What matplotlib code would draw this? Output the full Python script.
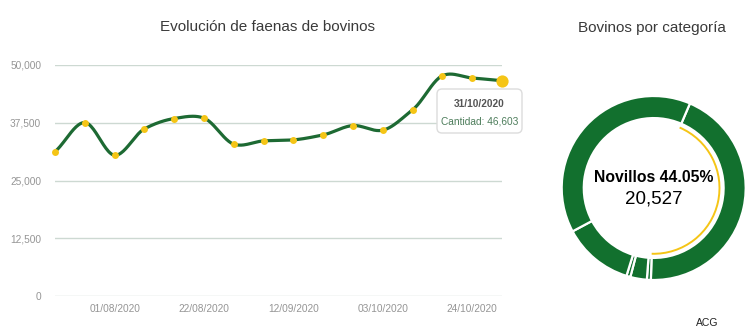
import numpy as np
import matplotlib
matplotlib.use("Agg")
import matplotlib.pyplot as plt
import matplotlib.dates as mdates
from matplotlib.patches import Arc, FancyBboxPatch
import datetime

plt.rcParams['font.family'] = ['Liberation Sans', 'DejaVu Sans']

# weekly slaughter (faenas) of cattle
dates = ["18/07/2020", "25/07/2020", "01/08/2020", "08/08/2020", "15/08/2020",
         "22/08/2020", "29/08/2020", "05/09/2020", "12/09/2020", "19/09/2020",
         "26/09/2020", "03/10/2020", "10/10/2020", "17/10/2020", "24/10/2020",
         "31/10/2020"]
cantidad = [31250, 37540, 30470, 36180, 38410, 38500, 32860, 33570, 33790,
            34870, 36890, 35890, 40300, 47680, 47180, 46603]
tick_dates = ["01/08/2020", "22/08/2020", "12/09/2020", "03/10/2020", "24/10/2020"]
y_ticks = [0, 12500, 25000, 37500, 50000]

# last week by category
categorias = ["Novillos", "Terneros", "Toros", "Otros", "Vaquillonas", "Vacas"]
cabezas = [20527, 326, 1351, 326, 5779, 18294]

GREEN_LINE = "#1d6a33"
GREEN_PIE = "#12702e"
YELLOW = "#f5c516"
GRID = "#cdd9d2"
TICK = "#959595"


def smooth(x, y, n=24, k=0.85):
    # hermite curve through the points, only for drawing the line
    x = np.asarray(x, float)
    y = np.asarray(y, float)
    xs, ys = [], []
    for i in range(len(x) - 1):
        p0 = max(i - 1, 0)
        p3 = min(i + 2, len(x) - 1)
        m1 = k * (y[i + 1] - y[p0]) / (x[i + 1] - x[p0]) * (x[i + 1] - x[i])
        m2 = k * (y[p3] - y[i]) / (x[p3] - x[i]) * (x[i + 1] - x[i])
        t = np.linspace(0, 1, n, endpoint=False)
        h00 = 2 * t**3 - 3 * t**2 + 1
        h10 = t**3 - 2 * t**2 + t
        h01 = -2 * t**3 + 3 * t**2
        h11 = t**3 - t**2
        xs.append(x[i] + t * (x[i + 1] - x[i]))
        ys.append(h00 * y[i] + h10 * m1 + h01 * y[i + 1] + h11 * m2)
    xs.append([x[-1]])
    ys.append([y[-1]])
    return np.concatenate(xs), np.concatenate(ys)


W, H = 750, 332
fig = plt.figure(figsize=(W / 100, H / 100), dpi=100)

# ---- line chart ----
ax = fig.add_axes([55 / W, 36 / H, 447 / W, 231 / H])
d = [datetime.datetime.strptime(s, "%d/%m/%Y") for s in dates]
xnum = mdates.date2num(d)
sx, sy = smooth(xnum, cantidad)
ax.plot(sx, sy, color=GREEN_LINE, lw=2.3, solid_capstyle="round", zorder=3, clip_on=False)
ax.plot(xnum[:-1], cantidad[:-1], "o", color=YELLOW, ms=5, mec="none", zorder=4, clip_on=False)
ax.plot(xnum[-1:], cantidad[-1:], "o", color=YELLOW, ms=8.8, mec="none", zorder=5, clip_on=False)

ax.set_xlim(xnum[0], xnum[-1])
ax.set_ylim(0, 50000)
ax.set_yticks(y_ticks)
ax.set_yticklabels([f"{v:,}" for v in y_ticks])
ax.set_xticks(mdates.date2num([datetime.datetime.strptime(s, "%d/%m/%Y") for s in tick_dates]))
ax.xaxis.set_major_formatter(mdates.DateFormatter("%d/%m/%Y"))
ax.grid(axis="y", color=GRID, lw=1)
ax.set_axisbelow(True)
for s in ax.spines.values():
    s.set_visible(False)
ax.tick_params(length=0, colors=TICK, labelsize=7.3)
ax.tick_params(axis="y", pad=10)
ax.tick_params(axis="x", pad=6)

# overlay in pixel coords for titles and tooltip
over = fig.add_axes([0, 0, 1, 1])
over.set_xlim(0, W)
over.set_ylim(H, 0)
over.axis("off")
over.add_patch(FancyBboxPatch((437, 89), 85, 44, boxstyle="round,pad=0,rounding_size=5",
                              fc="white", ec="#dcdcdc", lw=1))
over.text(479.5, 104, dates[-1], ha="center", va="center", fontsize=7.3,
          fontweight="bold", color="#555555")
over.text(479.5, 121.5, f"Cantidad: {cantidad[-1]:,}", ha="center", va="center",
          fontsize=7.3, color="#4d7d5b")

over.text(268, 27, "Evolución de faenas de bovinos", ha="center", va="center",
          fontsize=11, color="#3a3a3a")
over.text(652, 28, "Bovinos por categoría", ha="center", va="center",
          fontsize=11, color="#3a3a3a")
over.text(707, 323, "ACG", ha="center", va="center", fontsize=7.5, color="#222222")

# ---- donut ----
cx, cy, r = 653.7, 188, 92
pax = fig.add_axes([(cx - r) / W, (H - cy - r) / H, 2 * r / W, 2 * r / H])
total = sum(cabezas)
start_cw = 23.2
pax.pie(cabezas, startangle=90 - start_cw, counterclock=False, radius=1,
        colors=[GREEN_PIE] * len(cabezas),
        wedgeprops=dict(width=0.24, edgecolor="white", linewidth=1.6))
frac = cabezas[0] / total
pax.add_patch(Arc((0, 0), 2 * 0.715, 2 * 0.715,
                  theta1=90 - start_cw - frac * 360, theta2=90 - start_cw,
                  color=YELLOW, lw=1.4))
pax.set_xlim(-1, 1)
pax.set_ylim(-1, 1)
pax.set_aspect("equal")
pax.axis("off")
pax.text(0, 0.11, f"{categorias[0]} {frac * 100:.2f}%", ha="center", va="center",
         fontsize=11.3, fontweight="bold", color="black")
pax.text(0, -0.12, f"{cabezas[0]:,}", ha="center", va="center",
         fontsize=13.5, color="black")

fig.savefig("out.png", dpi=100)
